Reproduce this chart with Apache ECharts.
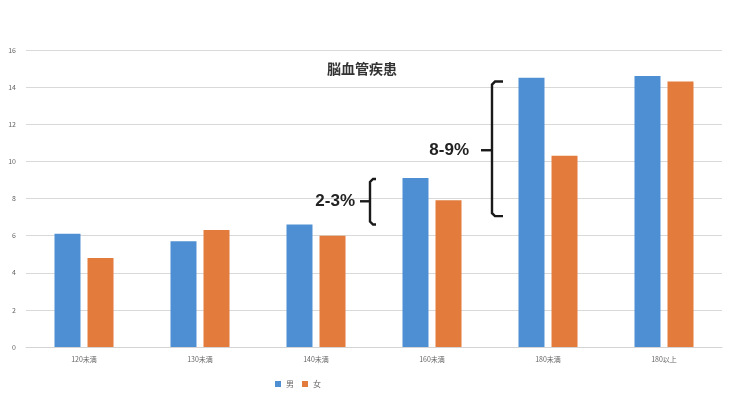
<!DOCTYPE html>
<html><head><meta charset="utf-8">
<script src="https://cdn.jsdelivr.net/npm/echarts@6/dist/echarts.min.js"></script>
<style>html,body{margin:0;padding:0;background:#fff}#c{width:734px;height:400px}</style>
</head><body><div id="c"></div>
<script>
const categories = ['120未満','130未満','140未満','160未満','180未満','180以上'];
const male = [6.1, 5.7, 6.6, 9.1, 14.5, 14.6];
const female = [4.8, 6.3, 6.0, 7.9, 10.3, 14.3];
const seriesNames = ['男','女'];
const title = '脳血管疾患';
const annotations = [
  {text: '2-3%', cat: 3, from: 6.6, to: 9.05, mid: 7.85},
  {text: '8-9%', cat: 4, from: 7.05, to: 14.3, mid: 10.6}
];
const chart = echarts.init(document.getElementById('c'));
const font = '"Noto Sans CJK JP", "Noto Sans", sans-serif';
chart.setOption({
  animation: false,
  backgroundColor: '#fff',
  title: {text: title, left: 322, top: 57, textStyle: {fontSize: 14, fontWeight: 'bold', color: '#333', fontFamily: font}},
  legend: {data: seriesNames, left: 270, top: 375, itemWidth: 6, itemHeight: 6, itemGap: 8,
    icon: 'rect', textStyle: {fontSize: 8, color: '#666', fontFamily: font}},
  grid: {left: 26, right: 12, top: 50, bottom: 53},
  xAxis: {type: 'category', data: categories,
    axisLine: {lineStyle: {color: '#d4d4d4'}}, axisTick: {show: false},
    axisLabel: {fontSize: 7, color: '#666', margin: 9, fontFamily: font}},
  yAxis: {type: 'value', min: 0, max: 16, interval: 2,
    axisLine: {show: false}, axisTick: {show: false},
    splitLine: {lineStyle: {color: '#d9d9d9', width: 1}},
    axisLabel: {fontSize: 7, color: '#666', margin: 10, fontFamily: font}},
  series: [
    {name: seriesNames[0], type: 'bar', data: male, barWidth: 26, barGap: '27%',
      itemStyle: {color: '#4d8fd2'}},
    {name: seriesNames[1], type: 'bar', data: female, barWidth: 26,
      itemStyle: {color: '#e27b3b'}}
  ]
});
// annotation braces placed via axis scales
const els = [];
annotations.forEach(a => {
  const xc = chart.convertToPixel({xAxisIndex: 0}, categories[a.cat]);
  const bx = a.cat === 3 ? xc - 62 : xc - 56;
  const y1 = chart.convertToPixel({yAxisIndex: 0}, a.to);
  const y2 = chart.convertToPixel({yAxisIndex: 0}, a.from);
  const ym = chart.convertToPixel({yAxisIndex: 0}, a.mid);
  const hook = a.cat === 3 ? 6 : 11;
  const tick = a.cat === 3 ? 10 : 11;
  els.push({type: 'polyline', shape: {points: [[bx + hook, y1], [bx + 3, y1], [bx, y1 + 3], [bx, y2 - 3], [bx + 3, y2], [bx + hook, y2]]},
    style: {stroke: '#1a1a1a', lineWidth: 2.4, fill: null}});
  els.push({type: 'line', shape: {x1: bx, y1: ym, x2: bx - tick, y2: ym},
    style: {stroke: '#1a1a1a', lineWidth: 2.4}});
  els.push({type: 'text', x: bx - tick - (a.cat === 3 ? 5 : 12), y: ym, style: {text: a.text, fill: '#222', font: 'bold 17px "Liberation Sans", Arial, sans-serif', textAlign: 'right', textVerticalAlign: 'middle'}});
});
chart.setOption({graphic: els});
</script></body></html>
